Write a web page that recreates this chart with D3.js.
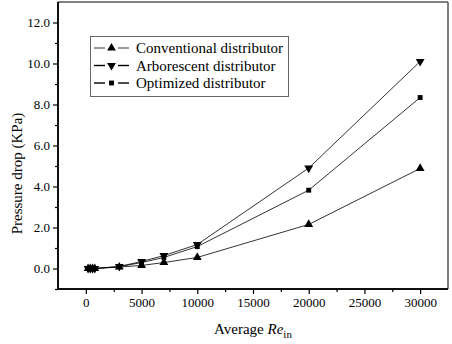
<!DOCTYPE html>
<html><head><meta charset="utf-8">
<script src="https://cdn.jsdelivr.net/npm/d3@7"></script>
<style>body{margin:0;background:#fff}svg{display:block}
svg text, svg tspan, svg g, svg{font-family:"Liberation Serif","Times New Roman",Tinos,FreeSerif !important}</style>
</head><body>
<script>
const reValues = [200, 400, 600, 800, 3000, 5000, 7000, 10000, 20000, 30000];
const conventional = [0.0, 0.0, 0.0, 0.0, 0.07, 0.15, 0.29, 0.54, 2.15, 4.88];
const arborescent  = [0.0, 0.0, 0.0, 0.0, 0.10, 0.34, 0.63, 1.17, 4.9, 10.1];
const optimized    = [0.0, 0.0, 0.0, 0.0, 0.09, 0.29, 0.54, 1.07, 3.82, 8.34];
const seriesNames = ["Conventional distributor", "Arborescent distributor", "Optimized distributor"];
const xTicks = [0, 5000, 10000, 15000, 20000, 25000, 30000];
const yTicks = [0, 2, 4, 6, 8, 10, 12];

const FONT = '"Liberation Serif"';
const W = 452, H = 344;
const L = 58, R = 448, T = 2, B = 289;
const svg = d3.select("body").append("svg").attr("width", W).attr("height", H).attr("font-family", "Liberation Serif");
const x = d3.scaleLinear().domain([-2500, 32500]).range([L, R]);
const y = d3.scaleLinear().domain([-1, 13]).range([B, T]);

svg.append("line").attr("x1", L).attr("x2", R).attr("y1", T).attr("y2", T).attr("stroke", "#000").attr("stroke-width", 1);
svg.append("line").attr("x1", R).attr("x2", R).attr("y1", T).attr("y2", B).attr("stroke", "#555").attr("stroke-width", 1.5);

const xa = svg.append("g").attr("transform", `translate(0,${B})`)
  .call(d3.axisBottom(x).tickValues(xTicks).tickFormat(d3.format("d")).tickSize(5).tickPadding(4));
xa.append("g").call(d3.axisBottom(x).tickValues(d3.range(2500, 32500, 5000)).tickSize(3).tickFormat(""));
const ya = svg.append("g").attr("transform", `translate(${L},0)`)
  .call(d3.axisLeft(y).tickValues(yTicks).tickFormat(d3.format(".1f")).tickSize(5).tickPadding(3));
ya.append("g").call(d3.axisLeft(y).tickValues(d3.range(-1, 13, 2)).tickSize(3).tickFormat(""));
svg.selectAll("g").attr("font-family", "Liberation Serif");
svg.selectAll(".domain").attr("stroke-width", 1.5);
svg.selectAll(".tick line").attr("stroke-width", 1.2);
svg.selectAll(".tick text").attr("font-size", 13).attr("font-family", "Liberation Serif").style("font-family", FONT);
xa.selectAll("path.domain").attr("d", `M${L},0H${R}`);
ya.selectAll("path.domain").attr("d", `M0,${T}V${B}`);

const all = [conventional, arborescent, optimized];
const symTri = d3.symbol().type(d3.symbolTriangle).size(34);
const symSq = d3.symbol().type(d3.symbolSquare).size(24);
const line = d3.line().x((d, i) => x(reValues[i])).y(d => y(d));

function marker(g, k, cx, cy) {
  if (k === 0) g.append("path").attr("d", symTri()).attr("transform", `translate(${cx},${cy})`);
  else if (k === 1) g.append("path").attr("d", symTri()).attr("transform", `translate(${cx},${cy}) rotate(180)`);
  else g.append("path").attr("d", symSq()).attr("transform", `translate(${cx},${cy})`);
}

all.forEach((vals, k) => {
  svg.append("path").attr("d", line(vals)).attr("fill", "none").attr("stroke", "#000").attr("stroke-width", 0.8);
  const g = svg.append("g").attr("fill", "#000");
  vals.forEach((v, i) => marker(g, k, x(reValues[i]), y(v)));
});

const lg = svg.append("g");
lg.append("rect").attr("x", 90.5).attr("y", 36.5).attr("width", 198).attr("height", 60).attr("fill", "#fff").attr("stroke", "#666").attr("stroke-width", 1);
seriesNames.forEach((n, k) => {
  const cy = 48 + k * 17.5;
  const sw = k === 0 ? 0.8 : 1.4;
  lg.append("line").attr("x1", 94).attr("x2", 105).attr("y1", cy).attr("y2", cy).attr("stroke", "#000").attr("stroke-width", sw);
  lg.append("line").attr("x1", 118).attr("x2", 129).attr("y1", cy).attr("y2", cy).attr("stroke", "#000").attr("stroke-width", sw);
  const g = lg.append("g").attr("fill", "#000");
  marker(g, k, 111.5, cy);
  lg.append("text").attr("x", 136).attr("y", cy + 5).attr("font-size", 15).attr("font-family", "Liberation Serif").text(n);
});

svg.append("text").attr("transform", `translate(22,${(T+B)/2 + 28}) rotate(-90)`).attr("text-anchor", "middle")
  .attr("font-size", 15).attr("font-family", "Liberation Serif").text("Pressure drop (KPa)");
const xt = svg.append("text").attr("x", 253).attr("y", 334).attr("text-anchor", "middle").attr("font-size", 15).attr("font-family", "Liberation Serif");
xt.append("tspan").text("Average ");
xt.append("tspan").style("font-style", "italic").text("Re");
xt.append("tspan").attr("dy", 4).attr("font-size", 11).text("in");
</script>
</body></html>
